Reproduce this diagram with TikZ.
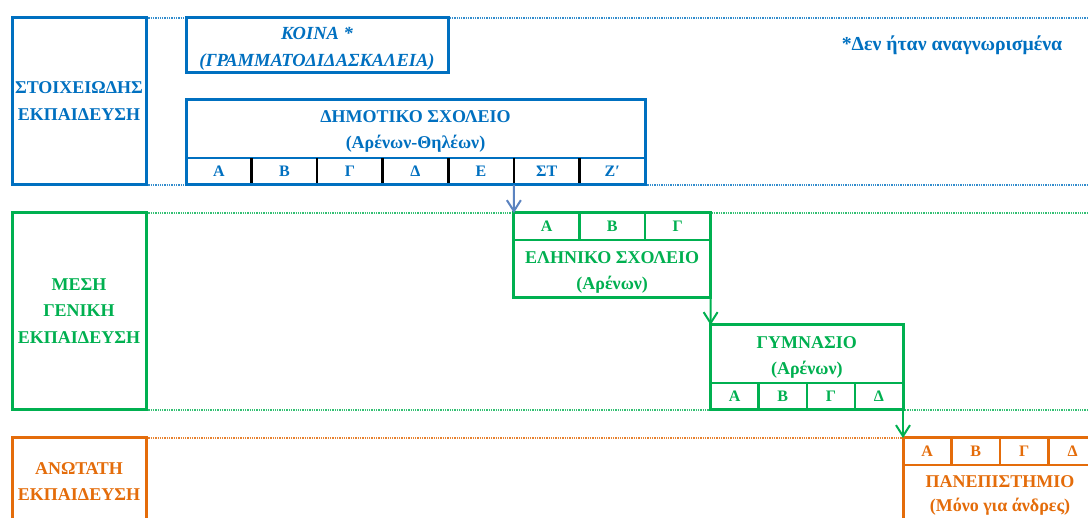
\documentclass[tikz,border=0pt]{standalone}
\usepackage{fontspec}
\setmainfont{Liberation Serif}
\usetikzlibrary{arrows.meta}
\definecolor{cblue}{HTML}{0070C0}
\definecolor{cgreen}{HTML}{00B050}
\definecolor{corange}{HTML}{E46C0A}
\definecolor{carrow}{HTML}{5B83C0}
\begin{document}
\begin{tikzpicture}[x=1pt,y=-1pt,
  frame/.style={draw=#1, line width=3pt, fill=white, inner sep=0pt, outer sep=0pt, anchor=north west},
  lbl/.style={text=#1, font=\bfseries\fontsize{18}{26.5}\selectfont, align=center, inner sep=0pt},
  cell/.style={text=#1, font=\bfseries\fontsize{16}{18}\selectfont, inner sep=0pt, outer sep=0pt, anchor=north west},
  sepline/.style={draw=#1, line width=1.3pt, dash pattern=on 1.3pt off 1pt},
  divider/.style={draw=#1, line width=2.5pt},
  conn/.style={draw=#1, line width=2pt, -{Straight Barb[length=11pt,width=14pt,line width=2pt]}},
]
\useasboundingbox (0,0) rectangle (1088,518);
% right end coordinates of the separator lines
\coordinate (r1) at (1088,18);
\coordinate (r2) at (1088,185);
\coordinate (r3) at (1088,213);
\coordinate (r4) at (1088,410);
% separator lines (drawn first, boxes on top)
\path[sepline=cblue!80] (146,18) -- (r1);
\path[sepline=cblue!80] (146,185) -- (r2);
\path[sepline=cgreen!80] (146,213) -- (r3);
\path[sepline=cgreen!80] (146,410) -- (r4);
\path[sepline=corange!85] (146,438) -- (903,438);

% left level boxes
\node[frame=cblue, minimum width=134, minimum height=167] (L1) at (12,18) {};
\node[lbl=cblue] (L1t) at (79,101) {ΣΤΟΙΧΕΙΩΔΗΣ\\ΕΚΠΑΙΔΕΥΣΗ};
\node[frame=cgreen, minimum width=134, minimum height=197] (L2) at (12,213) {};
\node[lbl=cgreen] (L2t) at (79,311) {ΜΕΣΗ\\ΓΕΝΙΚΗ\\ΕΚΠΑΙΔΕΥΣΗ};
\node[frame=corange, minimum width=134, minimum height=90] (L3) at (12,438) {};
\node[lbl=corange] (L3t) at (79,481.5) {ΑΝΩΤΑΤΗ\\ΕΚΠΑΙΔΕΥΣΗ};

% KOINA
\node[frame=cblue, minimum width=262, minimum height=55] (K) at (186,18) {};
\node[text=cblue, font=\bfseries\itshape\fontsize{18.5}{27}\selectfont, align=center, inner sep=0pt] (Kt) at (317,48.5) {ΚΟΙΝΑ *\\(ΓΡΑΜΜΑΤΟΔΙΔΑΣΚΑΛΕΙΑ)};
\node[text=cblue, font=\bfseries\fontsize{19.8}{22}\selectfont, inner sep=0pt] (note) at (952,45) {*Δεν ήταν αναγνωρισμένα};

% ΔΗΜΟΤΙΚΟ ΣΧΟΛΕΙΟ
\node[frame=cblue, minimum width=459, minimum height=85] (D) at (186,100) {};
\node[lbl=cblue] (Dt) at (415.5,131.5) {ΔΗΜΟΤΙΚΟ ΣΧΟΛΕΙΟ\\(Αρένων-Θηλέων)};
\foreach \i/\t in {1/Α,2/Β,3/Γ,4/Δ,5/Ε,6/ΣΤ,7/Ζʹ}{
  \node[cell=cblue, minimum width=65.57, minimum height=27] (d\i) at ({186+(\i-1)*65.57},158) {\t};
}
\path[divider=cblue] (D.west |- d1.north) -- (D.east |- d1.north);
\foreach \i in {1,...,6}{\path[divider=black] (d\i.north east) -- (d\i.south east);}
\path[draw=cblue, line width=3pt] (D.north west) rectangle (D.south east);

% ΕΛΗΝΙΚΟ ΣΧΟΛΕΙΟ
\node[frame=cgreen, minimum width=196.7, minimum height=85] (E) at (513.9,213) {};
\foreach \i/\t in {1/Α,2/Β,3/Γ}{
  \node[cell=cgreen, minimum width=65.57, minimum height=27] (e\i) at ({513.9+(\i-1)*65.57},213) {\t};
}
\path[divider=cgreen] (E.west |- e1.south) -- (E.east |- e1.south);
\foreach \i in {1,2}{\path[divider=cgreen] (e\i.north east) -- (e\i.south east);}
\node[lbl=cgreen] (Et) at (612.2,272.5) {ΕΛΗΝΙΚΟ ΣΧΟΛΕΙΟ\\(Αρένων)};

% ΓΥΜΝΑΣΙΟ
\node[frame=cgreen, minimum width=192.4, minimum height=85] (G) at (710.6,325) {};
\node[lbl=cgreen] (Gt) at (806.8,357.5) {ΓΥΜΝΑΣΙΟ\\(Αρένων)};
\foreach \i/\t in {1/Α,2/Β,3/Γ,4/Δ}{
  \node[cell=cgreen, minimum width=48.1, minimum height=27] (g\i) at ({710.6+(\i-1)*48.1},383) {\t};
}
\path[divider=cgreen] (G.west |- g1.north) -- (G.east |- g1.north);
\foreach \i in {1,2,3}{\path[divider=cgreen] (g\i.north east) -- (g\i.south east);}

% ΠΑΝΕΠΙΣΤΗΜΙΟ
\node[frame=corange, minimum width=194, minimum height=90] (P) at (903,438) {};
\foreach \i/\t in {1/Α,2/Β,3/Γ,4/Δ}{
  \node[cell=corange, minimum width=48.5, minimum height=27] (p\i) at ({903+(\i-1)*48.5},438) {\t};
}
\path[divider=corange] (P.west |- p1.south) -- (P.east |- p1.south);
\foreach \i in {1,2,3}{\path[divider=corange] (p\i.north east) -- (p\i.south east);}
\node[text=corange, font=\bfseries\fontsize{18}{24.5}\selectfont, align=center, inner sep=0pt] (Pt) at (1000,495.5) {ΠΑΝΕΠΙΣΤΗΜΙΟ\\(Μόνο για άνδρες)};

% connectors
\path[conn=carrow] (d5.south east) -- (E.north west);
\path[conn=cgreen] (E.south east) -- (G.north west);
\path[conn=cgreen] (G.south east) -- (P.north west);
\end{tikzpicture}
\end{document}
